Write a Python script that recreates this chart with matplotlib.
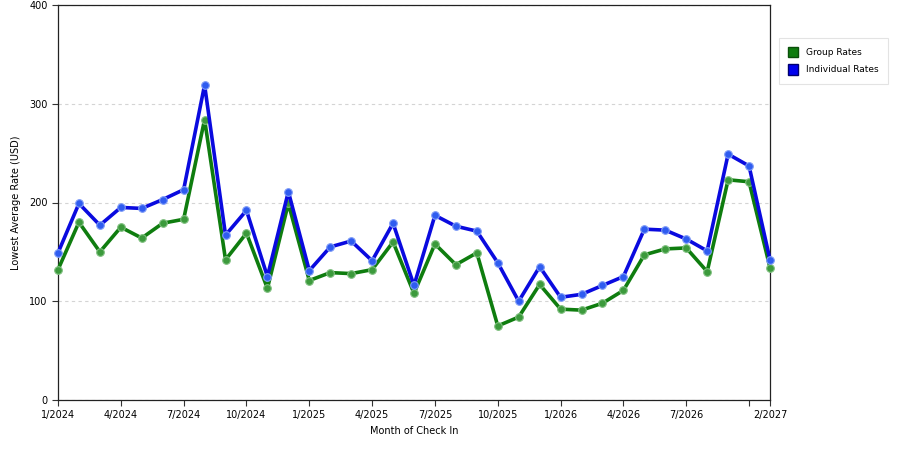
import matplotlib
matplotlib.use("Agg")
import matplotlib.pyplot as plt
from matplotlib.patches import Patch

# ---------------- Data ----------------
months = ["1/2024", "2/2024", "3/2024", "4/2024", "5/2024", "6/2024", "7/2024",
          "8/2024", "9/2024", "10/2024", "11/2024", "12/2024",
          "1/2025", "2/2025", "3/2025", "4/2025", "5/2025", "6/2025", "7/2025",
          "8/2025", "9/2025", "10/2025", "11/2025", "12/2025",
          "1/2026", "2/2026", "3/2026", "4/2026", "5/2026", "6/2026", "7/2026",
          "8/2026", "9/2026", "10/2026", "2/2027"]

group_rates = [132, 180, 150, 175, 164, 179, 183, 284, 142, 169, 113, 199,
               121, 129, 128, 132, 160, 108, 158, 137, 149, 75, 84, 117,
               92, 91, 98, 111, 147, 153, 154, 130, 223, 221, 134]

individual_rates = [149, 199, 177, 195, 194, 203, 213, 319, 167, 192, 125, 211,
                    131, 155, 161, 141, 179, 116, 187, 176, 171, 139, 100, 135,
                    104, 107, 116, 125, 173, 172, 163, 151, 249, 237, 142]

tick_labels = ["1/2024", "4/2024", "7/2024", "10/2024", "1/2025", "4/2025",
               "7/2025", "10/2025", "1/2026", "4/2026", "7/2026", "", "2/2027"]

GREEN = "#0f7d0f"
BLUE = "#0a0adf"

# ---------------- Plot ----------------
plt.rcParams["font.family"] = ["DejaVu Sans"]
fig = plt.figure(figsize=(9, 4.5), dpi=100)
ax = fig.add_axes([58 / 900, 1 - 400 / 450, (770 - 58) / 900, 395 / 450])

x = list(range(len(months)))
ax.plot(x, group_rates, color=GREEN, lw=2.6, marker="o", ms=5.5,
        mfc="#3c9a3c", mec="#7fbf7f", mew=0.8, zorder=3, clip_on=False)
ax.plot(x, individual_rates, color=BLUE, lw=2.6, marker="o", ms=5.5,
        mfc="#2f5cf0", mec="#7f9cf7", mew=0.8, zorder=4, clip_on=False)

ax.set_xlim(0, len(months) - 1)
ax.set_ylim(0, 400)
ax.set_yticks([0, 100, 200, 300, 400])
tick_pos = [months.index(m) for m in tick_labels if m]
tick_pos.insert(-1, months.index("10/2026"))
ax.set_xticks(tick_pos)
ax.set_xticklabels(tick_labels)
ax.tick_params(labelsize=7, length=4, width=0.8, color="#333333")
ax.yaxis.grid(True, color="#d4d4d4", linestyle=(0, (3, 3)), lw=0.8)
ax.set_axisbelow(True)
for s in ax.spines.values():
    s.set_color("#222222")
    s.set_linewidth(0.9)

ax.set_xlabel("Month of Check In", fontsize=7, labelpad=4)
ax.set_ylabel("Lowest Average Rate (USD)", fontsize=7, labelpad=6)

handles = [Patch(facecolor=GREEN, edgecolor="#0a4f0a", label="Group Rates"),
           Patch(facecolor="#0000ee", edgecolor="#00006f", label="Individual Rates")]
leg = fig.legend(handles=handles, loc="upper left", bbox_to_anchor=(779 / 900, 1 - 38 / 450),
                 fontsize=6.5, frameon=True, fancybox=False, handlelength=1.1,
                 handleheight=1.4, handletextpad=0.9, borderpad=1.0, labelspacing=0.75,
                 borderaxespad=0)
leg.get_frame().set_edgecolor("#dddddd")
leg.get_frame().set_linewidth(0.8)

fig.savefig("out.png", dpi=100)
